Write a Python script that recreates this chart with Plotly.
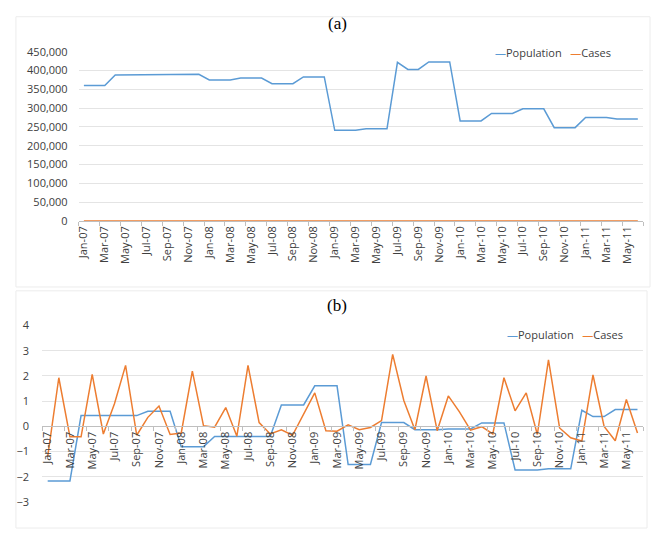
import plotly.graph_objects as go

W, H = 656, 536

month_names = ["Jan", "Feb", "Mar", "Apr", "May", "Jun", "Jul", "Aug", "Sep", "Oct", "Nov", "Dec"]
months = [f"{m}-{y:02d}" for y in range(7, 12) for m in month_names][:54]

# (a) raw values
population = [360000, 360000, 360000, 388000, 388000, 388000, 388000, 388000, 390000, 390000,
              390000, 390000, 375000, 375000, 375000, 380000, 380000, 380000, 365000, 365000,
              365000, 383000, 383000, 383000, 241000, 241000, 241000, 245000, 245000, 245000,
              422000, 403000, 403000, 423000, 423000, 423000, 266000, 266000, 266000, 286000,
              286000, 286000, 298000, 298000, 298000, 248000, 248000, 248000, 275000, 275000,
              275000, 271000, 271000, 271000]
cases = [4, 20, 8, 8, 20, 8, 14, 22, 8, 12, 14, 8, 9, 21, 10, 10, 14, 8, 22, 11, 8, 9, 8, 13,
         17, 9, 9, 10, 9, 10, 11, 24, 15, 9, 20, 9, 16, 13, 9, 10, 8, 20, 13, 17, 8, 23, 10, 8,
         7, 20, 10, 7, 15, 9]

# (b) standardized values
population_z = [-2.16, -2.16, -2.16, 0.43, 0.43, 0.43, 0.43, 0.43, 0.43, 0.60, 0.60, 0.60,
                -0.81, -0.81, -0.81, -0.40, -0.40, -0.40, -0.40, -0.40, -0.40, 0.85, 0.85, 0.85,
                1.61, 1.61, 1.61, -1.51, -1.51, -1.51, 0.155, 0.155, 0.155, -0.13, -0.13, -0.13,
                -0.10, -0.10, -0.10, 0.14, 0.14, 0.14, -1.73, -1.73, -1.73, -1.68, -1.68, -1.68,
                0.64, 0.39, 0.39, 0.67, 0.67, 0.67]
cases_z = [-1.2, 1.93, -0.41, -0.41, 2.06, -0.30, 0.9, 2.42, -0.35, 0.36, 0.81, -0.32,
           -0.26, 2.19, 0.03, -0.03, 0.75, -0.39, 2.42, 0.15, -0.3, -0.13, -0.35, 0.52,
           1.33, -0.17, -0.19, 0.06, -0.13, -0.04, 0.23, 2.86, 1.03, -0.13, 2.0, -0.17,
           1.21, 0.58, -0.15, -0.01, -0.30, 1.93, 0.62, 1.33, -0.32, 2.64, -0.06, -0.45,
           -0.58, 2.04, 0.0, -0.57, 1.07, -0.26]

idx = list(range(len(months)))
BLUE = "#5B9BD5"
ORANGE = "#ED7D31"
FONT = "Open Sans"
TXT = "#404040"
GRID = "#e4e4e4"
AXIS = "#bfbfbf"


def px(x):
    return x / W


def py(y):
    return 1 - y / H


fig = go.Figure()
fig.add_trace(go.Scatter(x=idx, y=population, mode="lines", line=dict(color=BLUE, width=1.5),
                         xaxis="x", yaxis="y", showlegend=False))
fig.add_trace(go.Scatter(x=idx, y=cases, mode="lines", line=dict(color=ORANGE, width=1.5),
                         xaxis="x", yaxis="y", showlegend=False))
fig.add_trace(go.Scatter(x=idx, y=population_z, mode="lines", line=dict(color=BLUE, width=1.5),
                         xaxis="x2", yaxis="y2", showlegend=False))
fig.add_trace(go.Scatter(x=idx, y=cases_z, mode="lines", line=dict(color=ORANGE, width=1.5),
                         xaxis="x2", yaxis="y2", showlegend=False))

xcommon = dict(
    range=[-0.5, len(months) - 0.5],
    tickmode="array", tickvals=idx[::2], ticktext=months[::2],
    tickangle=-90, ticks="", showgrid=False, zeroline=False,
    showline=True, linecolor=AXIS, linewidth=1,
    tickfont=dict(family=FONT, size=11, color=TXT),
    minor=dict(tick0=-0.5, dtick=2, ticks="outside", ticklen=4, tickcolor=AXIS, showgrid=False),
)

y2_top, y2_bot = py(326.7), py(508.3)
x2_pos = y2_bot + 3 / 7 * (y2_top - y2_bot)

fig.update_layout(
    width=W, height=H, margin=dict(l=0, r=0, t=0, b=0),
    paper_bgcolor="white", plot_bgcolor="white",
    xaxis=dict(domain=[px(76), px(643)], anchor="y", **xcommon),
    yaxis=dict(domain=[py(219), py(45)], range=[0, 450000], dtick=50000, tickformat=",d",
               showgrid=True, gridcolor=GRID, zeroline=False, showline=False,
               tickfont=dict(family=FONT, size=11, color=TXT), ticklabelstandoff=10,
               anchor="x"),
    xaxis2=dict(domain=[px(39.3), px(643)], anchor="free", position=x2_pos, **xcommon),
    yaxis2=dict(domain=[y2_bot, y2_top], range=[-3, 4], dtick=1,
                showgrid=True, gridcolor=GRID, zeroline=False, showline=False,
                tickfont=dict(family=FONT, size=11, color=TXT), ticklabelstandoff=12,
                anchor="x2"),
)

# chart frames
fig.add_shape(type="rect", xref="paper", yref="paper", x0=px(13), x1=px(650), y0=py(287), y1=py(9),
              line=dict(color="#ececec", width=1), layer="below")
fig.add_shape(type="rect", xref="paper", yref="paper", x0=px(13), x1=px(647), y0=py(535), y1=py(291),
              line=dict(color="#ececec", width=1), layer="below")

# titles
fig.add_annotation(text="(a)", xref="paper", yref="paper", x=px(336), y=py(16), yanchor="middle",
                   showarrow=False, font=dict(family="Liberation Serif", size=17, color="black"))
fig.add_annotation(text="(b)", xref="paper", yref="paper", x=px(336), y=py(306), yanchor="middle",
                   showarrow=False, font=dict(family="Liberation Serif", size=17, color="black"))

legend_text = (f'<span style="color:{BLUE}">—</span>Population   '
               f'<span style="color:{ORANGE}">—</span>Cases')
fig.add_annotation(text=legend_text, xref="paper", yref="paper", x=px(492), y=py(46),
                   xanchor="left", yanchor="middle", showarrow=False,
                   font=dict(family=FONT, size=11, color=TXT))
fig.add_annotation(text=legend_text, xref="paper", yref="paper", x=px(504), y=py(336),
                   xanchor="left", yanchor="middle", showarrow=False,
                   font=dict(family=FONT, size=11, color=TXT))

fig.write_html(
    "out.html",
    config={"displayModeBar": False},
    post_script="document.body.style.margin='0';document.documentElement.style.overflow='hidden';"
                "document.body.style.overflow='hidden';",
)
